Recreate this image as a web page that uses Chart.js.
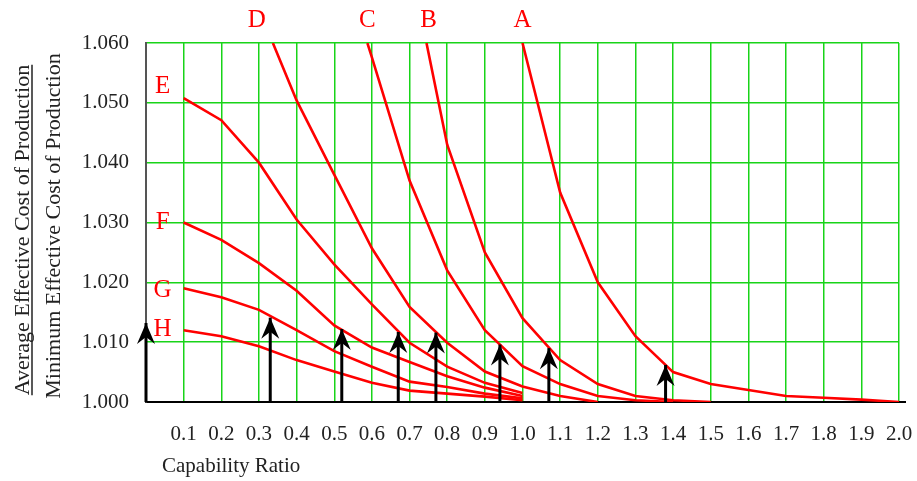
<!DOCTYPE html>
<html>
<head>
<meta charset="utf-8">
<title>Capability Ratio vs Effective Cost</title>
<script src="https://cdn.jsdelivr.net/npm/chart.js@4.4.1/dist/chart.umd.min.js"></script>
<style>
  html, body { margin: 0; padding: 0; background: #fff; }
  #wrap { width: 917px; height: 481px; }
</style>
</head>
<body>
<div id="wrap"><canvas id="costChart"></canvas></div>
<script>
// values
const aX = [1.0, 1.1, 1.2, 1.3, 1.4, 1.5, 1.6, 1.7, 1.8, 1.9, 2.0];
const aY = [1.060, 1.035, 1.020, 1.011, 1.005, 1.003, 1.002, 1.001, 1.0007, 1.0004, 1.000];
const bX = [0.745, 0.8, 0.9, 1.0, 1.1, 1.2, 1.3, 1.4, 1.5];
const bY = [1.060, 1.043, 1.025, 1.014, 1.007, 1.003, 1.001, 1.0003, 1.000];
const cX = [0.588, 0.6, 0.7, 0.8, 0.9, 1.0, 1.1, 1.2, 1.3, 1.4];
const cY = [1.060, 1.0576, 1.037, 1.022, 1.012, 1.006, 1.003, 1.001, 1.0003, 1.000];
const dX = [0.337, 0.4, 0.5, 0.6, 0.7, 0.8, 0.9, 1.0, 1.1, 1.2];
const dY = [1.060, 1.0504, 1.038, 1.0257, 1.0159, 1.0099, 1.0051, 1.0026, 1.001, 1.000];
const lowX = [0.1, 0.2, 0.3, 0.4, 0.5, 0.6, 0.7, 0.8, 0.9, 1.0];
const eY = [1.0508, 1.0471, 1.040, 1.0305, 1.023, 1.0163, 1.0099, 1.0059, 1.0032, 1.0015];
const fY = [1.030, 1.0271, 1.0232, 1.0186, 1.0128, 1.0091, 1.0067, 1.0043, 1.0024, 1.0010];
const gY = [1.019, 1.0175, 1.0154, 1.012, 1.0085, 1.0059, 1.0034, 1.0025, 1.0014, 1.0006];
const hY = [1.012, 1.011, 1.0093, 1.007, 1.0051, 1.0032, 1.0019, 1.0014, 1.0009, 1.0003];

// minimum cost arrows
const arrowX = [0, 0.33, 0.52, 0.67, 0.77, 0.94, 1.07, 1.38];
const arrowTop = [1.0132, 1.0141, 1.0122, 1.0117, 1.0116, 1.0096, 1.009, 1.0062];

const xTickLabels = ['0.1', '0.2', '0.3', '0.4', '0.5', '0.6', '0.7', '0.8', '0.9', '1.0',
                     '1.1', '1.2', '1.3', '1.4', '1.5', '1.6', '1.7', '1.8', '1.9', '2.0'];
const yTickLabels = ['1.000', '1.010', '1.020', '1.030', '1.040', '1.050', '1.060'];

const FONT = '"Liberation Serif", "DejaVu Serif", serif';
Chart.defaults.font.family = FONT;

const curves = [
    ['A', aX, aY], ['B', bX, bY], ['C', cX, cY], ['D', dX, dY],
    ['E', lowX, eY], ['F', lowX, fY], ['G', lowX, gY], ['H', lowX, hY]
];

const curveSets = curves.map(([name, xs, ys]) => ({
    label: name,
    data: xs.map((x, i) => ({ x: x, y: ys[i] })),
    borderColor: '#ff0000',
    borderWidth: 2.6,
    pointRadius: 0,
    tension: 0,
    order: 2
}));

const arrowSets = arrowX.map((x, i) => ({
    label: 'arrow',
    data: [{ x: x, y: 1.000 }, { x: x, y: arrowTop[i] }],
    borderColor: '#000',
    borderWidth: 3,
    pointRadius: 0,
    order: 1,
    clip: false
}));

// letter offsets, arrow heads and axis titles
const decorations = {
    id: 'decorations',
    afterDatasetsDraw(chart) {
        const ctx = chart.ctx;
        ctx.save();
        ctx.fillStyle = '#000';
        chart.data.datasets.forEach((ds, i) => {
            if (ds.label !== 'arrow') return;
            const p = chart.getDatasetMeta(i).data[1];
            ctx.beginPath();
            ctx.moveTo(p.x, p.y);
            ctx.lineTo(p.x - 9, p.y + 21);
            ctx.lineTo(p.x, p.y + 14);
            ctx.lineTo(p.x + 9, p.y + 21);
            ctx.closePath();
            ctx.fill();
        });
        ctx.restore();
    },
    afterDraw(chart) {
        const ctx = chart.ctx;
        const area = chart.chartArea;
        const topShift = { A: 0, B: 2, C: 0, D: -16 };
        const leftShift = { E: -12, F: 0, G: 2, H: -1 };

        ctx.save();
        // bottom axis runs a little past the grid
        ctx.strokeStyle = '#000';
        ctx.lineWidth = 2;
        ctx.beginPath();
        ctx.moveTo(area.right, area.bottom);
        ctx.lineTo(area.right + 7, area.bottom);
        ctx.stroke();

        ctx.fillStyle = '#ff0000';
        ctx.font = '25px ' + FONT;
        ctx.textAlign = 'center';
        ctx.textBaseline = 'middle';
        chart.data.datasets.forEach((ds, i) => {
            if (ds.label === 'arrow') return;
            const p = chart.getDatasetMeta(i).data[0];
            if (ds.label in topShift) {
                ctx.fillText(ds.label, p.x + topShift[ds.label], 20);
            } else {
                ctx.fillText(ds.label, p.x - 21, p.y + leftShift[ds.label]);
            }
        });

        ctx.fillStyle = '#222';
        ctx.font = '21px ' + FONT;
        ctx.textAlign = 'left';
        ctx.textBaseline = 'alphabetic';
        ctx.fillText('Capability Ratio', area.left + 16, area.bottom + 70);

        // two-line y title, first line underlined like a fraction
        ctx.font = '22px ' + FONT;
        ctx.textAlign = 'center';
        ctx.rotate(-Math.PI / 2);
        const top = 'Average Effective Cost of Production';
        const bottom = 'Minimum Effective Cost of Production';
        ctx.fillText(top, -230, 29);
        const w = ctx.measureText(top).width;
        ctx.strokeStyle = '#222';
        ctx.lineWidth = 1.5;
        ctx.beginPath();
        ctx.moveTo(-230 - w / 2, 32);
        ctx.lineTo(-230 + w / 2, 32);
        ctx.stroke();
        ctx.fillText(bottom, -226, 60);
        ctx.restore();
    }
};

new Chart(document.getElementById('costChart'), {
    type: 'line',
    data: { datasets: arrowSets.concat(curveSets) },
    options: {
        responsive: true,
        maintainAspectRatio: false,
        animation: false,
        layout: { padding: { top: 43, right: 18, left: 0, bottom: 0 } },
        plugins: {
            legend: { display: false },
            tooltip: { enabled: false }
        },
        scales: {
            x: {
                type: 'linear',
                min: 0,
                max: 2.0,
                afterBuildTicks: s => {
                    s.ticks = [{ value: 0 }].concat(xTickLabels.map(t => ({ value: Number(t) })));
                },
                afterFit: s => {
                    s.height = 79;
                    s.paddingLeft = 0;
                    s.paddingRight = 0;
                },
                ticks: {
                    autoSkip: false,
                    maxRotation: 0,
                    padding: 20,
                    color: '#222',
                    font: { size: 21 },
                    callback: (v, i) => (i === 0 ? '' : xTickLabels[i - 1])
                },
                grid: { color: '#18d418', lineWidth: 1.5, drawTicks: false },
                border: { color: '#000', width: 2 }
            },
            y: {
                type: 'linear',
                min: 1.000,
                max: 1.060,
                afterBuildTicks: s => {
                    s.ticks = yTickLabels.map(t => ({ value: Number(t) }));
                },
                afterFit: s => { s.width = 146; },
                ticks: {
                    padding: 17,
                    color: '#222',
                    font: { size: 21 },
                    callback: (v, i) => yTickLabels[i]
                },
                grid: { color: '#18d418', lineWidth: 1.5, drawTicks: false },
                border: { color: '#555', width: 2 }
            }
        }
    },
    plugins: [decorations]
});
</script>
</body>
</html>
